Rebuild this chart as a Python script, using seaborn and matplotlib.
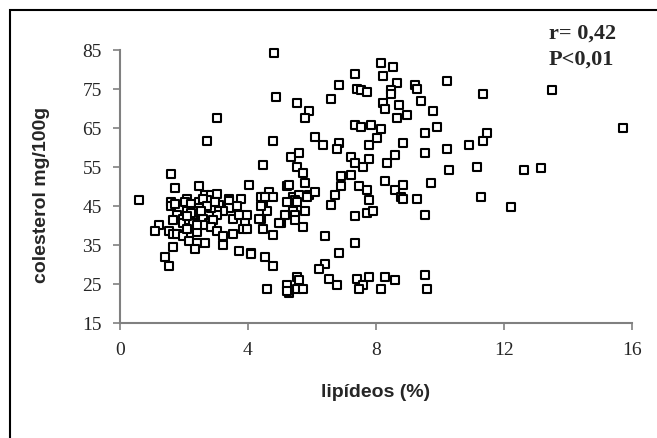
import matplotlib
matplotlib.use('Agg')
import matplotlib.pyplot as plt
import matplotlib.patches as patches
import seaborn as sns
import pandas as pd

# lipídeos (%) / colesterol (mg/100g)
lipideos = [
    4.82, 4.88, 3.02, 2.71, 4.77, 4.46, 5.52, 5.90, 5.77, 6.83, 6.58, 7.33, 7.40,
    7.52, 7.71, 8.15, 8.21, 8.21, 8.27, 6.08, 6.33, 6.83, 6.77, 7.33, 7.52, 7.83,
    8.15, 8.02, 7.77, 5.33, 5.58, 7.21, 7.33, 7.77, 7.58, 8.33, 5.52,
    8.52, 8.65, 9.21, 9.27, 10.21, 8.46, 8.46, 11.33, 8.71, 9.40, 9.77, 8.96, 8.65,
    9.52, 9.90, 11.46, 11.33, 10.90, 10.21, 8.83, 9.52, 8.58, 10.27, 11.15,
    13.49, 15.71, 12.63, 13.15, 12.21,
    8.27, 8.83, 9.71, 8.58, 8.77, 8.83, 9.27, 11.27, 9.52, 8.27, 8.58, 8.17, 9.52, 9.58,
    5.71, 6.90, 7.21, 5.77, 5.21, 5.27, 6.90, 7.46, 7.71, 4.65, 4.46, 4.77, 5.40,
    5.58, 5.90, 5.83, 6.08, 6.71, 4.46, 5.21, 5.46, 5.52, 6.58, 7.77, 4.58, 5.15,
    5.40, 5.77, 5.46, 5.46, 5.02, 4.40, 4.46, 5.71, 4.77, 7.33, 7.71, 7.90, 6.40,
    7.33, 6.83, 4.52, 4.77, 6.40, 6.21, 6.52, 6.77, 7.40, 7.77, 7.58, 7.46, 4.58,
    5.52, 5.58, 5.21, 5.52, 5.71, 5.27, 5.21,
    1.58, 1.71, 2.46, 4.02, 0.58, 1.58, 1.58, 1.71, 2.08, 2.02, 2.21, 2.46, 2.65,
    2.83, 3.02, 2.71, 2.58, 3.08, 3.40, 3.40, 3.77, 3.65, 3.40, 3.21, 3.02, 3.02,
    2.83, 2.46, 2.33, 2.08, 1.77, 1.65, 1.96, 1.96, 2.15, 2.27, 2.27, 2.52, 2.58,
    2.77, 2.90, 2.83, 2.58, 3.02, 3.21, 3.21, 3.52, 3.52, 3.71, 3.90, 3.96, 3.83,
    3.96, 4.33, 4.96, 4.40, 4.52, 4.40, 1.21, 1.08, 1.52, 1.65, 1.77, 1.96, 2.08,
    2.15, 2.40, 2.40, 2.65, 2.33, 1.65, 1.40, 1.52, 3.71, 4.08, 4.08,
    2.21, 2.71, 2.96, 2.52, 2.08, 2.40,
]
colesterol = [
    84.3, 73.0, 67.5, 61.7, 61.7, 55.6, 71.5, 69.4, 67.5, 76.1, 72.5, 78.7, 75.1,
    74.6, 74.1, 81.7, 78.2, 71.5, 69.9, 62.7, 60.7, 61.2, 59.7, 65.8, 65.3, 65.8,
    64.8, 62.3, 60.7, 57.6, 58.6, 57.6, 56.1, 57.1, 55.1, 56.1, 55.1,
    80.7, 76.6, 76.1, 75.1, 77.1, 74.6, 73.6, 73.6, 70.9, 72.0, 69.4, 68.4, 67.5,
    63.8, 65.3, 63.8, 61.7, 60.7, 59.7, 61.2, 58.6, 58.1, 54.3, 55.1,
    74.6, 64.9, 54.2, 54.7, 44.8,
    51.5, 50.5, 51.0, 49.0, 47.4, 46.9, 46.9, 47.4, 42.8, 26.9, 25.9, 23.8, 27.4, 23.8,
    53.5, 52.6, 53.0, 51.0, 50.0, 50.5, 50.0, 50.0, 49.0, 48.5, 47.4, 47.4, 47.4,
    47.9, 47.9, 47.4, 48.5, 47.9, 45.9, 45.9, 46.4, 45.9, 45.3, 46.4, 43.8, 42.8,
    43.8, 43.8, 42.8, 41.3, 40.7, 41.7, 39.2, 39.7, 37.6, 42.3, 43.3, 43.8, 37.2,
    35.6, 33.0, 32.0, 29.5, 30.0, 28.9, 26.4, 24.8, 26.4, 26.9, 24.8, 23.8, 23.8,
    26.9, 25.9, 24.8, 23.8, 23.8, 22.8, 23.3,
    53.1, 49.5, 50.0, 50.5, 46.4, 45.9, 44.9, 45.4, 46.9, 45.9, 45.4, 45.9, 47.9,
    47.9, 48.1, 46.4, 46.9, 45.3, 46.9, 46.2, 46.9, 44.9, 44.4, 43.8, 43.8, 42.8,
    44.4, 44.4, 43.8, 43.8, 42.8, 41.3, 41.7, 40.7, 41.3, 42.8, 40.7, 42.8, 41.7,
    40.7, 41.3, 39.7, 40.2, 38.7, 37.2, 35.0, 41.7, 37.7, 42.8, 40.7, 42.8, 39.2,
    39.2, 41.7, 40.7, 47.4, 47.4, 44.9, 40.2, 38.7, 38.7, 37.7, 37.7, 37.2, 39.2,
    36.1, 38.2, 35.6, 35.6, 34.0, 34.5, 32.0, 29.5, 33.5, 33.0, 32.7,
    43.3, 44.9, 45.9, 43.8, 42.3, 40.2,
]
x_ticks = [0, 4, 8, 12, 16]
y_ticks = [15, 25, 35, 45, 55, 65, 75, 85]

df = pd.DataFrame({'lipideos': lipideos, 'colesterol': colesterol})

sns.set_style('white')
fig = plt.figure(figsize=(6.57, 4.39), dpi=100)
ax = fig.add_axes([0.1826, 0.262, 0.7793, 0.622])

sns.scatterplot(data=df, x='lipideos', y='colesterol', ax=ax, marker='s',
                s=26, color='white', edgecolor='black', linewidth=1.5,
                zorder=3, clip_on=False)

ax.set_xlim(0, 16)
ax.set_ylim(15, 85)
ax.set_xticks(x_ticks)
ax.set_yticks(y_ticks)
ax.set_xticklabels([str(t) for t in x_ticks], fontfamily='Liberation Serif', fontsize=14)
ax.set_yticklabels([str(t) for t in y_ticks], fontfamily='Liberation Serif', fontsize=14)
ax.tick_params(axis='both', direction='out', length=5, width=1.2, color='#808080',
               pad=8, left=True, bottom=True)

for side in ['top', 'right']:
    ax.spines[side].set_visible(False)
for side in ['left', 'bottom']:
    ax.spines[side].set_color('#808080')
    ax.spines[side].set_linewidth(1.5)

ax.set_xlabel('lipídeos (%)', fontfamily='Liberation Sans', fontweight='bold', fontsize=14)
ax.set_ylabel('colesterol mg/100g', fontfamily='Liberation Sans', fontweight='bold', fontsize=14)
ax.xaxis.set_label_coords(0.5, -0.218)
ax.yaxis.set_label_coords(-0.137, 0.472)

fig.text(549 / 657, 1 - 39 / 439, 'r= 0,42', fontfamily='Liberation Serif',
         fontweight='bold', fontsize=16, va='baseline')
fig.text(549 / 657, 1 - 65 / 439, 'P<0,01', fontfamily='Liberation Serif',
         fontweight='bold', fontsize=16, va='baseline')

# outer chart frame (right and bottom edges fall outside the picture)
fig.patches.append(patches.Rectangle((10 / 657, -0.1), 1.2, 0.1 + 1 - 11 / 439,
                                     transform=fig.transFigure, fill=False,
                                     edgecolor='black', linewidth=1.5))

fig.savefig('out.png', dpi=100)
